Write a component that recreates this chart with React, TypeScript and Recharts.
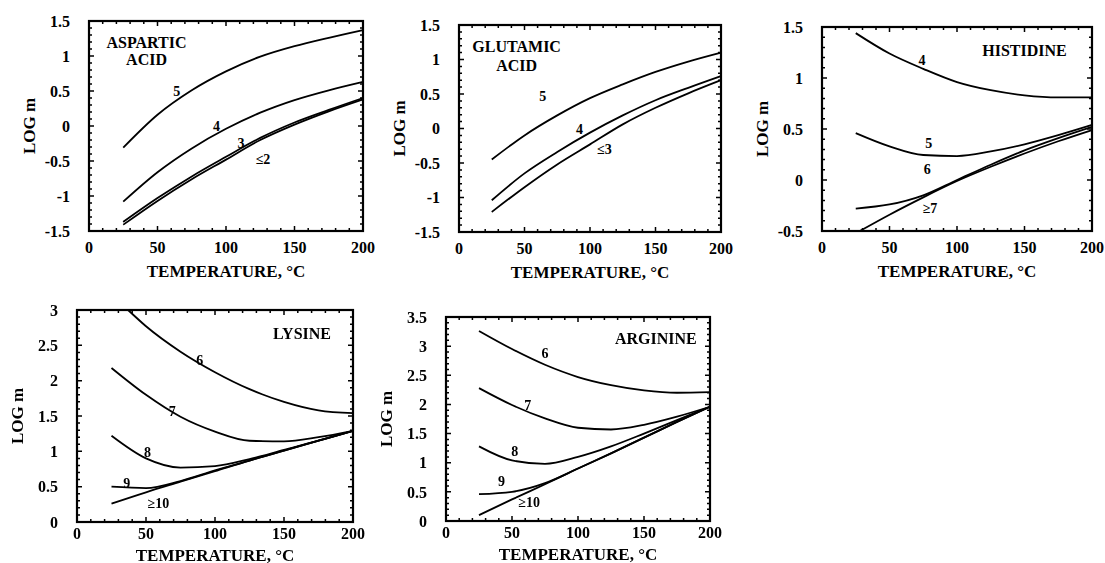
import { LineChart, Line, XAxis, YAxis, ReferenceDot } from 'recharts';

// temperatures (°C) at which the curves were read
const TEMPS = [25, 50, 75, 100, 125, 150, 175, 200];
const X_LABELS = [0, 50, 100, 150, 200];
const X_DOMAIN = [0, 200];

// aspartic acid, log m per pH
const ASP_5 = [-0.31, 0.16, 0.51, 0.78, 0.99, 1.14, 1.26, 1.37];
const ASP_4 = [-1.08, -0.66, -0.32, -0.04, 0.19, 0.37, 0.51, 0.63];
const ASP_3 = [-1.37, -1.03, -0.72, -0.44, -0.17, 0.05, 0.23, 0.4];
const ASP_2 = [-1.41, -1.07, -0.76, -0.48, -0.2, 0.02, 0.21, 0.38];

// glutamic acid
const GLU_5 = [-0.45, -0.1, 0.19, 0.44, 0.64, 0.82, 0.97, 1.1];
const GLU_4 = [-1.04, -0.65, -0.34, -0.06, 0.19, 0.41, 0.59, 0.76];
const GLU_3 = [-1.21, -0.85, -0.52, -0.23, 0.06, 0.3, 0.51, 0.7];

// histidine
const HIS_4 = [1.44, 1.24, 1.09, 0.96, 0.88, 0.83, 0.81, 0.81];
const HIS_5 = [0.46, 0.33, 0.245, 0.235, 0.28, 0.35, 0.44, 0.54];
const HIS_6 = [-0.28, -0.24, -0.15, 0.0, 0.15, 0.29, 0.41, 0.52];
const HIS_7_TEMPS = [28, 50, 75, 100, 125, 150, 175, 200];
const HIS_7 = [-0.5, -0.34, -0.17, -0.01, 0.13, 0.26, 0.38, 0.49];

// lysine
const LYS_6_TEMPS = [37, 50, 75, 100, 125, 150, 175, 200];
const LYS_6 = [3.0, 2.77, 2.41, 2.12, 1.88, 1.7, 1.58, 1.54];
const LYS_7 = [2.18, 1.8, 1.49, 1.28, 1.15, 1.14, 1.2, 1.29];
const LYS_8 = [1.22, 0.9, 0.77, 0.79, 0.89, 1.02, 1.15, 1.29];
const LYS_9 = [0.5, 0.48, 0.58, 0.73, 0.87, 1.01, 1.15, 1.29];
const LYS_10 = [0.26, 0.42, 0.57, 0.72, 0.87, 1.01, 1.15, 1.29];

// arginine
const ARG_6 = [3.26, 2.95, 2.68, 2.47, 2.33, 2.24, 2.2, 2.21];
const ARG_7 = [2.28, 1.99, 1.76, 1.6, 1.57, 1.65, 1.79, 1.96];
const ARG_8 = [1.28, 1.04, 0.98, 1.1, 1.28, 1.5, 1.73, 1.96];
const ARG_9 = [0.46, 0.5, 0.65, 0.9, 1.16, 1.43, 1.7, 1.96];
const ARG_10 = [0.1, 0.37, 0.63, 0.9, 1.16, 1.43, 1.7, 1.96];

const FONT = "'Liberation Serif', 'DejaVu Serif', serif";
const YW = 70;
const XH = 50;
const MT = 12;
const MR = 14;
const MARGIN = { top: MT, right: MR, left: 0, bottom: 0 };
const TICK_STYLE = { fill: '#000', fontSize: 16, fontWeight: 'bold', fontFamily: FONT };

const pts = (ts: number[], vs: number[]) => ts.map((t, i) => ({ t, v: vs[i] }));

const steps = (min: number, max: number, step: number) => {
  const out: number[] = [];
  const n = Math.round((max - min) / step);
  for (let i = 0; i <= n; i++) out.push(Math.round((min + i * step) * 10) / 10);
  return out;
};

const X_TICKS = steps(0, 200, 10);

interface Note { t: number; v: number; text: string; size?: number }

interface Panel {
  x: number; y: number; w: number; h: number;
  yMin: number; yMax: number;
  tickMargin: number; titleOffset: number;
  series: { t: number; v: number }[][];
  notes: Note[];
}

const PANELS: Panel[] = [
  {
    x: 89, y: 21, w: 274, h: 210, yMin: -1.5, yMax: 1.5, tickMargin: 5, titleOffset: 4,
    series: [pts(TEMPS, ASP_5), pts(TEMPS, ASP_4), pts(TEMPS, ASP_3), pts(TEMPS, ASP_2)],
    notes: [
      { t: 42, v: 1.2, text: 'ASPARTIC', size: 16 },
      { t: 42, v: 0.95, text: 'ACID', size: 16 },
      { t: 64, v: 0.49, text: '5' },
      { t: 93, v: 0.0, text: '4' },
      { t: 111, v: -0.25, text: '3' },
      { t: 127, v: -0.48, text: '≤2' },
    ],
  },
  {
    x: 459, y: 25, w: 262, h: 207, yMin: -1.5, yMax: 1.5, tickMargin: 5, titleOffset: 4,
    series: [pts(TEMPS, GLU_5), pts(TEMPS, GLU_4), pts(TEMPS, GLU_3)],
    notes: [
      { t: 44, v: 1.19, text: 'GLUTAMIC', size: 16 },
      { t: 44, v: 0.92, text: 'ACID', size: 16 },
      { t: 64, v: 0.46, text: '5' },
      { t: 92, v: -0.01, text: '4' },
      { t: 111, v: -0.31, text: '≤3' },
    ],
  },
  {
    x: 822, y: 27, w: 270, h: 204, yMin: -0.5, yMax: 1.5, tickMargin: 5, titleOffset: 4,
    series: [pts(TEMPS, HIS_4), pts(TEMPS, HIS_5), pts(TEMPS, HIS_6), pts(HIS_7_TEMPS, HIS_7)],
    notes: [
      { t: 150, v: 1.27, text: 'HISTIDINE', size: 16 },
      { t: 74, v: 1.17, text: '4' },
      { t: 79, v: 0.36, text: '5' },
      { t: 78, v: 0.1, text: '6' },
      { t: 80, v: -0.28, text: '≥7' },
    ],
  },
  {
    x: 77, y: 310, w: 276, h: 212, yMin: 0, yMax: 3, tickMargin: 0, titleOffset: 11,
    series: [pts(LYS_6_TEMPS, LYS_6), pts(TEMPS, LYS_7), pts(TEMPS, LYS_8), pts(TEMPS, LYS_9), pts(TEMPS, LYS_10)],
    notes: [
      { t: 163, v: 2.67, text: 'LYSINE', size: 16 },
      { t: 89, v: 2.29, text: '6' },
      { t: 69, v: 1.56, text: '7' },
      { t: 51, v: 0.99, text: '8' },
      { t: 36, v: 0.54, text: '9' },
      { t: 59, v: 0.26, text: '≥10' },
    ],
  },
  {
    x: 446, y: 317, w: 264, h: 204, yMin: 0, yMax: 3.5, tickMargin: 0, titleOffset: 11,
    series: [pts(TEMPS, ARG_6), pts(TEMPS, ARG_7), pts(TEMPS, ARG_8), pts(TEMPS, ARG_9), pts(TEMPS, ARG_10)],
    notes: [
      { t: 159, v: 3.13, text: 'ARGININE', size: 16 },
      { t: 75, v: 2.87, text: '6' },
      { t: 62, v: 1.99, text: '7' },
      { t: 52, v: 1.2, text: '8' },
      { t: 42, v: 0.68, text: '9' },
      { t: 63, v: 0.31, text: '≥10' },
    ],
  },
];

const isYMajor = (v: number) => Math.abs(v * 2 - Math.round(v * 2)) < 1e-6;

// built once so the chart props stay stable between renders
const BUILT = PANELS.map((p) => {
  const yTicks = steps(p.yMin, p.yMax, 0.1);
  const yMajor = yTicks.filter(isYMajor);

  // frame and inward ticks on all four sides, in plot pixels
  let d = '';
  X_TICKS.forEach((t) => {
    const len = X_LABELS.includes(t) ? 5 : 3;
    const px = YW + (t / 200) * p.w;
    d += `M${px},${MT + p.h}v${-len}M${px},${MT}v${len}`;
  });
  yTicks.forEach((v) => {
    const len = isYMajor(v) ? 5 : 3;
    const py = MT + ((p.yMax - v) / (p.yMax - p.yMin)) * p.h;
    d += `M${YW},${py}h${len}M${YW + p.w},${py}h${-len}`;
  });

  const notes = p.notes.map((n) => ({
    ...n,
    shape: (s: any) => (
      <text x={s.cx} y={s.cy} textAnchor="middle" dominantBaseline="central" fontFamily={FONT}
        fontWeight="bold" fontSize={n.size ?? 14} fill="#000">
        {n.text}
      </text>
    ),
  }));
  const xLabel = {
    value: 'TEMPERATURE, °C', position: 'insideBottom', offset: p.titleOffset,
    fill: '#000', fontSize: 17, fontWeight: 'bold', fontFamily: FONT,
  };
  const yLabel = {
    value: 'LOG m', position: 'insideLeft', offset: 10, angle: -90,
    fill: '#000', fontSize: 17, fontWeight: 'bold', fontFamily: FONT, style: { textAnchor: 'middle' },
  };
  return { p, yDomain: [p.yMin, p.yMax], yMajor, tickPath: d, notes, xLabel, yLabel };
});

function PanelChart({ b }: { b: (typeof BUILT)[number] }) {
  const { p } = b;
  const W = YW + p.w + MR;
  const H = MT + p.h + XH;
  return (
    <div style={{ position: 'absolute', left: p.x - YW, top: p.y - MT, width: W, height: H }}>
      <LineChart width={W} height={H} margin={MARGIN}>
        <XAxis type="number" dataKey="t" domain={X_DOMAIN} ticks={X_LABELS} tick={TICK_STYLE}
          tickMargin={p.tickMargin} axisLine={false} tickLine={false} height={XH} label={b.xLabel} />
        <YAxis type="number" domain={b.yDomain} ticks={b.yMajor} tick={TICK_STYLE}
          tickMargin={13} axisLine={false} tickLine={false} width={YW} label={b.yLabel} />
        {p.series.map((d, i) => (
          <Line key={i} data={d} dataKey="v" type="monotone" dot={false}
            stroke="#000" strokeWidth={1.8} isAnimationActive={false} />
        ))}
        {b.notes.map((n, i) => (
          <ReferenceDot key={i} x={n.t} y={n.v} r={0} shape={n.shape} />
        ))}
      </LineChart>
      {/* plot frame with inward tick marks */}
      <svg width={W} height={H} style={{ position: 'absolute', left: 0, top: 0, pointerEvents: 'none' }}>
        <rect x={YW} y={MT} width={p.w} height={p.h} fill="none" stroke="#000" strokeWidth={2.2} />
        <path d={b.tickPath} fill="none" stroke="#000" strokeWidth={1.5} />
      </svg>
    </div>
  );
}

export default function App() {
  return (
    <div style={{ position: 'fixed', left: 0, top: 0, width: 1105, height: 563, background: '#fff' }}>
      {BUILT.map((b, i) => (
        <PanelChart key={i} b={b} />
      ))}
    </div>
  );
}
